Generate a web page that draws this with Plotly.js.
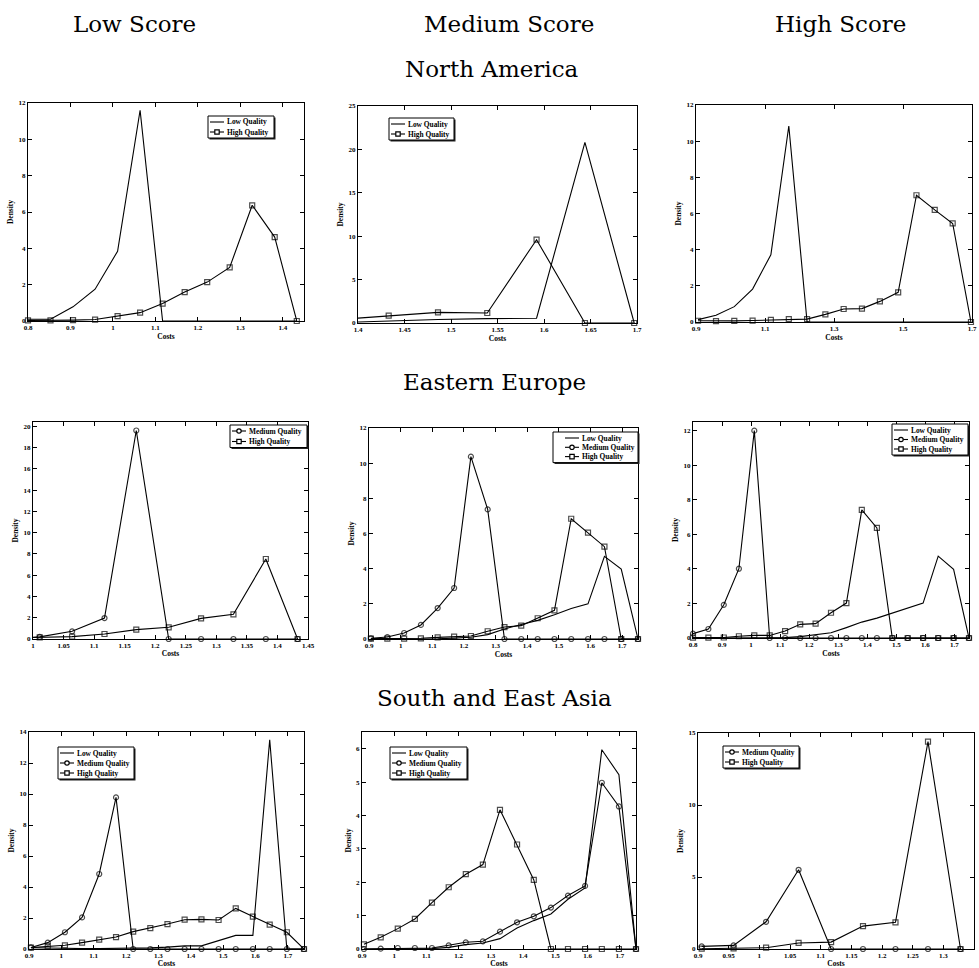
<!DOCTYPE html>
<html><head><meta charset="utf-8">
<script src="https://cdn.plot.ly/plotly-3.0.1.min.js"></script>
<style>html,body{margin:0;padding:0;background:#fff}#chart{width:979px;height:968px}</style>
</head><body><div id="chart"></div>
<script>
// ---------- data ----------
const rowTitles = ["North America", "Eastern Europe", "South and East Asia"];
const colTitles = ["Low Score", "Medium Score", "High Score"];
const seriesNames = ["Low Quality", "Medium Quality", "High Quality"];

// North America
const costsNA_L = [0.8, 0.853, 0.906, 0.958, 1.011, 1.064, 1.117, 1.169, 1.222, 1.275, 1.328, 1.381, 1.433];
const naLS_low  = [0.1, 0.1, 0.78, 1.75, 3.84, 11.6, 0, 0, 0, 0, 0, 0, 0];
const naLS_high = [0.03, 0.03, 0.05, 0.08, 0.27, 0.46, 0.96, 1.59, 2.14, 2.95, 6.37, 4.62, 0];

const costsNA_M = [1.381, 1.433, 1.486, 1.539, 1.592, 1.644, 1.697];
const naMS_low  = [0.05, 0.25, 0.4, 0.5, 0.55, 20.8, 0];
const naMS_high = [0.41, 0.84, 1.22, 1.15, 9.6, 0, 0];

const costsNA_H = [0.906, 0.958, 1.011, 1.064, 1.117, 1.169, 1.222, 1.275, 1.328, 1.381, 1.433, 1.486, 1.539, 1.592, 1.644, 1.697];
const naHS_low  = [0.13, 0.37, 0.85, 1.82, 3.72, 10.84, 0, 0, 0, 0, 0, 0, 0, 0, 0, 0];
const naHS_high = [0.07, 0.05, 0.06, 0.08, 0.12, 0.16, 0.16, 0.42, 0.72, 0.74, 1.14, 1.64, 7.01, 6.2, 5.45, 0];

// Eastern Europe
const costsEE_L = [0.958, 1.011, 1.064, 1.117, 1.169, 1.222, 1.275, 1.328, 1.381, 1.433];
const eeLS_med  = [0.05, 0.2, 0.72, 1.97, 19.6, 0, 0, 0, 0, 0];
const eeLS_high = [0.1, 0.15, 0.22, 0.47, 0.88, 1.1, 1.94, 2.32, 7.52, 0];

const costsEE_M = [0.906, 0.958, 1.011, 1.064, 1.117, 1.169, 1.222, 1.275, 1.328, 1.381, 1.433, 1.486, 1.539, 1.592, 1.644, 1.697, 1.75];
const eeMS_low  = [0, 0, 0, 0, 0.01, 0.05, 0.1, 0.25, 0.57, 0.82, 1.06, 1.38, 1.73, 2.0, 4.7, 3.98, 0];
const eeMS_med  = [0.04, 0.11, 0.34, 0.8, 1.76, 2.9, 10.37, 7.37, 0, 0, 0, 0, 0, 0, 0, 0, 0];
const eeMS_high = [0.02, 0.02, 0.02, 0.04, 0.09, 0.13, 0.17, 0.44, 0.68, 0.76, 1.18, 1.63, 6.84, 6.05, 5.25, 0, 0];

const costsEE_H = [0.8, 0.853, 0.906, 0.958, 1.011, 1.064, 1.117, 1.169, 1.222, 1.275, 1.328, 1.381, 1.433, 1.486, 1.539, 1.592, 1.644, 1.697, 1.75];
const eeHS_low  = [0, 0, 0, 0, 0, 0, 0.02, 0.08, 0.2, 0.3, 0.6, 0.92, 1.15, 1.44, 1.77, 2.02, 4.74, 3.97, 0];
const eeHS_med  = [0.25, 0.52, 1.92, 4.01, 12.0, 0, 0, 0, 0, 0, 0, 0, 0, 0, 0, 0, 0, 0, 0];
const eeHS_high = [0.02, 0.02, 0.03, 0.1, 0.15, 0.15, 0.4, 0.79, 0.83, 1.46, 2.02, 7.41, 6.37, 0, 0, 0, 0, 0, 0];

// South and East Asia
const costsSEA_L = [0.906, 0.958, 1.011, 1.064, 1.117, 1.169, 1.222, 1.275, 1.328, 1.381, 1.433, 1.486, 1.539, 1.592, 1.644, 1.697, 1.75];
const seLS_low  = [0.08, 0.05, 0.04, 0.03, 0.03, 0.04, 0.05, 0.07, 0.12, 0.2, 0.2, 0.55, 0.88, 0.88, 13.5, 0, 0];
const seLS_med  = [0.1, 0.41, 1.08, 2.04, 4.84, 9.78, 0, 0, 0, 0, 0, 0, 0, 0, 0, 0, 0];
const seLS_high = [0.09, 0.17, 0.24, 0.41, 0.6, 0.77, 1.12, 1.35, 1.61, 1.89, 1.91, 1.87, 2.62, 2.09, 1.57, 1.08, 0];

const costsSEA_M = [0.906, 0.958, 1.011, 1.064, 1.117, 1.169, 1.222, 1.275, 1.328, 1.381, 1.433, 1.486, 1.539, 1.592, 1.644, 1.697, 1.75];
const seMS_low  = [0, 0, 0, 0, 0.01, 0.05, 0.13, 0.18, 0.31, 0.63, 0.85, 1.05, 1.49, 1.83, 5.97, 5.22, 0];
const seMS_med  = [0, 0.01, 0.03, 0.03, 0.03, 0.11, 0.2, 0.23, 0.52, 0.8, 0.98, 1.24, 1.6, 1.89, 4.98, 4.27, 0];
const seMS_high = [0.14, 0.35, 0.61, 0.9, 1.39, 1.85, 2.24, 2.53, 4.17, 3.13, 2.07, 0, 0, 0, 0, 0, 0];

const costsSEA_H = [0.906, 0.958, 1.011, 1.064, 1.117, 1.169, 1.222, 1.275, 1.328];
const seHS_med  = [0.18, 0.25, 1.89, 5.5, 0, 0, 0, 0, 0];
const seHS_high = [0.02, 0.05, 0.09, 0.42, 0.48, 1.59, 1.85, 14.4, 0];

// ---------- layout of the 3x3 grid ----------
const W = 979, H = 968;
const panels = [
  {costs: costsNA_L, s: [naLS_low, null, naLS_high], xr: [0.8, 1.45], xd: 0.1, yr: [0, 12], yd: 2,
   box: [28, 304, 103, 321], leg: {l: 208, r: 274, t: 116, sp: 10, pad: 0}},
  {costs: costsNA_M, s: [naMS_low, null, naMS_high], xr: [1.4, 1.7], xd: 0.05, yr: [0, 25], yd: 5,
   box: [358, 637, 106, 323], leg: {l: 389, r: 454, t: 118, sp: 10, pad: 0}},
  {costs: costsNA_H, s: [naHS_low, null, naHS_high], xr: [0.9, 1.7], xd: 0.2, yr: [0, 12], yd: 2,
   box: [696, 972, 105, 322], leg: null},
  {costs: costsEE_L, s: [null, eeLS_med, eeLS_high], xr: [1, 1.45], xd: 0.05, yr: [0, 20.4], yd: 2,
   box: [33, 308, 422, 639], leg: {l: 230, r: 307, t: 425, sp: 10.5, pad: 0}},
  {costs: costsEE_M, s: [eeMS_low, eeMS_med, eeMS_high], xr: [0.9, 1.75], xd: 0.1, yr: [0, 12], yd: 2,
   box: [369, 638, 428, 639], leg: {l: 553, r: 638, t: 432, sp: 9.3, pad: 10}},
  {costs: costsEE_H, s: [eeHS_low, eeHS_med, eeHS_high], xr: [0.8, 1.75], xd: 0.1, yr: [0, 12.5], yd: 2,
   box: [693, 969, 422, 638], leg: {l: 892, r: 968, t: 424, sp: 9.5, pad: 0}},
  {costs: costsSEA_L, s: [seLS_low, seLS_med, seLS_high], xr: [0.9, 1.75], xd: 0.1, yr: [0, 14], yd: 2,
   box: [29, 304, 732, 949], leg: {l: 58, r: 134, t: 747, sp: 10, pad: 0}},
  {costs: costsSEA_M, s: [seMS_low, seMS_med, seMS_high], xr: [0.9, 1.75], xd: 0.1, yr: [0, 6.5], yd: 1,
   box: [362, 636, 732, 949], leg: {l: 390, r: 467, t: 747, sp: 10, pad: 0}},
  {costs: costsSEA_H, s: [null, seHS_med, seHS_high], xr: [0.9, 1.35], xd: 0.05, yr: [0, 15], yd: 5,
   box: [698, 974, 733, 949], leg: {l: 723, r: 799, t: 746, sp: 10, pad: 0}}
];

const FONT = 'Liberation Serif, Times New Roman, serif';
const symbols = [null, 'circle-open', 'square-open'];

const traces = [];
const layout = {
  width: W, height: H, margin: {l: 0, r: 0, t: 0, b: 0},
  paper_bgcolor: '#fff', plot_bgcolor: '#fff', showlegend: false,
  font: {family: FONT, color: '#000'},
  annotations: [], shapes: []
};
const px = x => x / W, py = y => 1 - y / H;

panels.forEach((p, i) => {
  const k = i + 1;
  const sfx = k === 1 ? '' : String(k);
  p.s.forEach((vals, j) => {
    if (!vals) return;
    const t = {
      type: 'scatter', x: p.costs, y: vals, name: seriesNames[j],
      xaxis: 'x' + sfx, yaxis: 'y' + sfx,
      mode: symbols[j] ? 'lines+markers' : 'lines',
      line: {color: '#000', width: 1.1},
      cliponaxis: false, showlegend: false, hoverinfo: 'skip'
    };
    if (symbols[j]) {
      t.marker = {symbol: symbols[j], color: '#000', line: {color: '#000', width: 1.2},
        size: p.costs.map(c => (c < p.xr[0] - 1e-9 || c > p.xr[1] + 1e-9) ? 0 : 5)};
    }
    traces.push(t);
  });
  const [x0, x1, y0, y1] = p.box;
  const axCommon = {
    showline: true, linecolor: '#000', linewidth: 1, mirror: 'allticks',
    ticks: 'inside', ticklen: 4, tickcolor: '#000', tickwidth: 1,
    showgrid: false, zeroline: false, fixedrange: true,
    tickfont: {family: FONT, size: 7, color: '#000', weight: 'bold'}
  };
  layout['xaxis' + sfx] = Object.assign({}, axCommon, {
    domain: [x0 / W, x1 / W], anchor: 'y' + sfx, range: p.xr,
    tickmode: 'linear', tick0: p.xr[0], dtick: p.xd,
    title: {text: 'Costs', standoff: 1, font: {family: FONT, size: 7.5, color: '#000', weight: 'bold'}}
  });
  layout['yaxis' + sfx] = Object.assign({}, axCommon, {
    domain: [1 - y1 / H, 1 - y0 / H], anchor: 'x' + sfx, range: p.yr,
    tickmode: 'linear', tick0: 0, dtick: p.yd,
    title: {text: 'Density', standoff: 3, font: {family: FONT, size: 7.5, color: '#000', weight: 'bold'}}
  });

  // MATLAB-style legend box drawn in paper space
  if (p.leg) {
    const L = p.leg;
    const names = [0, 1, 2].filter(j => p.s[j]);
    const first = L.t + 6;
    const bottom = first + (names.length - 1) * L.sp + 6;
    layout.shapes.push({type: 'rect', xref: 'paper', yref: 'paper',
      x0: px(L.l + 1.5), x1: px(L.r + 1.5), y0: py(bottom + 1.5), y1: py(L.t + 1.5),
      fillcolor: '#222', line: {width: 0}});
    layout.shapes.push({type: 'rect', xref: 'paper', yref: 'paper',
      x0: px(L.l), x1: px(L.r), y0: py(bottom), y1: py(L.t),
      fillcolor: '#fff', line: {color: '#000', width: 1}});
    names.forEach((j, n) => {
      const yy = first + n * L.sp;
      const sx0 = L.l + L.pad + 2, sx1 = sx0 + 14, mx = (sx0 + sx1) / 2;
      layout.shapes.push({type: 'line', xref: 'paper', yref: 'paper',
        x0: px(sx0), x1: px(sx1), y0: py(yy), y1: py(yy), line: {color: '#000', width: 1.1}});
      if (symbols[j]) {
        layout.shapes.push({type: symbols[j] === 'circle-open' ? 'circle' : 'rect',
          xref: 'paper', yref: 'paper',
          x0: px(mx - 2.2), x1: px(mx + 2.2), y0: py(yy + 2.2), y1: py(yy - 2.2),
          fillcolor: '#fff', line: {color: '#000', width: 1.2}});
      }
      layout.annotations.push({text: seriesNames[j], xref: 'paper', yref: 'paper',
        x: px(sx1 + 1), y: py(yy), xanchor: 'left', yanchor: 'middle', showarrow: false,
        font: {family: FONT, size: 7.4, color: '#000', weight: 'bold'}});
    });
  }
});

// column and row headings
const colX = [134, 509, 840];
colTitles.forEach((t, i) => layout.annotations.push({
  text: t, x: colX[i] / W, y: 1 - 24 / H, xref: 'paper', yref: 'paper',
  xanchor: 'center', yanchor: 'middle', showarrow: false,
  font: {family: 'DejaVu Serif', size: 23, color: '#000'}
}));
const rowY = [69, 382, 698];
const rowX = [492, 494, 494];
rowTitles.forEach((t, i) => layout.annotations.push({
  text: t, x: rowX[i] / W, y: 1 - rowY[i] / H, xref: 'paper', yref: 'paper',
  xanchor: 'center', yanchor: 'middle', showarrow: false,
  font: {family: 'DejaVu Serif', size: 23, color: '#000'}
}));

Plotly.newPlot('chart', traces, layout, {staticPlot: true, displayModeBar: false});
</script></body></html>
